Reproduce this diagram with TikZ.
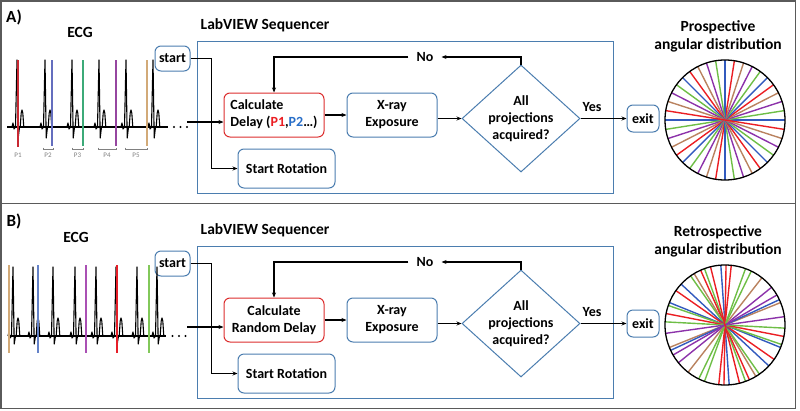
\documentclass[tikz,border=0pt]{standalone}
\usepackage{fontspec}
\setmainfont{Carlito}
\usetikzlibrary{shapes.geometric,arrows.meta,calc}

\definecolor{boxblue}{RGB}{75,125,175}
\definecolor{boxred}{RGB}{220,45,45}
\definecolor{framegray}{RGB}{90,90,90}
\definecolor{cred}{RGB}{235,30,35}
\definecolor{cblue}{RGB}{50,90,190}
\definecolor{cgreen}{RGB}{110,190,70}
\definecolor{cpurple}{RGB}{140,50,170}
\definecolor{cbrown}{RGB}{185,130,95}
\definecolor{pblue}{RGB}{40,110,200}
\definecolor{ered}{RGB}{200,40,50}
\definecolor{eblue}{RGB}{100,110,190}
\definecolor{egreen}{RGB}{60,170,120}
\definecolor{epurple}{RGB}{150,70,160}
\definecolor{etan}{RGB}{210,170,120}
\definecolor{bred}{RGB}{230,30,40}
\definecolor{bblue}{RGB}{100,130,200}
\definecolor{bpurple}{RGB}{170,80,180}
\definecolor{bgreen}{RGB}{130,200,90}

% beat: #1 spike x, #2 baseline y, #3 top y, #4 trough y, #5 T-wave peak y
\newcommand\ecgbeat[5]{%
  \draw[ecg] (#1-5,#2) -- (#1-4,#2-4) -- (#1-3,#2+2) -- (#1-1.5,#2) -- (#1,#3) -- (#1+1.2,#4) -- (#1+2.5,#2) -- (#1+3.2,#2) -- (#1+4.2,#5+3) -- (#1+5,#5) -- (#1+5.8,#5+3) -- (#1+6.8,#2) -- (#1+7.5,#2);}

\newcommand\flowchart[3]{%
  \node[draw=boxblue, line width=1pt, minimum width=416pt, minimum height=152pt, inner sep=0pt] (seq#1) at (405,117) {};
  \node[titlefont] (lab#1) at (265,25) {LabVIEW Sequencer};
  \node[stepbox, minimum width=35pt, minimum height=25pt] (start#1) at (172.5,58.5) {start};
  \node[stepbox, draw=boxred, minimum width=100pt, minimum height=44pt] (calc#1) at (274,115) {#2};
  \node[stepbox, minimum width=90pt, minimum height=44pt] (xray#1) at (392,115) {X-ray\\Exposure};
  \node[stepbox, minimum width=97pt, minimum height=39pt] (rot#1) at (286.5,168.5) {Start Rotation};
  \node[diamond, draw=boxblue, line width=1pt, aspect=1.1, minimum width=118pt, minimum height=107pt, inner sep=0pt, align=center] (dia#1) at (521,118.5) {All\\projections\\acquired?};
  \node[stepbox, minimum width=32pt, minimum height=27pt] (exit#1) at (643,118.5) {exit};
  \node[inner xsep=8pt, inner ysep=2pt] (no#1) at (425,57) {No};
  \node (yes#1) at (592,107) {Yes};
  \node[titlefont, align=center] (title#1) at (718,36) {#3};
  \coordinate (ecg#1) at (187,122);
  \draw[con] (start#1.east) -- ++(21,0) coordinate (sp#1);
  \draw[arr] (sp#1) |- (rot#1.west);
  \draw[arr] (ecg#1) -- (ecg#1 -| calc#1.west);
  \draw[arr] (calc#1.east) -- (xray#1.west);
  \draw[arr] (xray#1.east |- dia#1.west) -- (dia#1.west);
  \draw[arr] (dia#1.north) |- (no#1.east);
  \draw[arr] (no#1.west) -| (calc#1.north);
  \draw[arr] (dia#1.east) -- (exit#1.west);
}

\begin{document}
\begin{tikzpicture}[x=1pt,y=-1pt,
  font=\fontsize{14}{17}\selectfont\bfseries,
  titlefont/.style={font=\fontsize{15.5}{18}\selectfont\bfseries},
  stepbox/.style={draw=boxblue, line width=1pt, rounded corners=6pt, align=center, inner sep=0pt},
  arr/.style={line width=1.1pt, -{Stealth[length=5pt,width=4pt]}},
  con/.style={line width=1.1pt},
  ecg/.style={line width=1.1pt, line join=round},
  pline/.style={line width=1.4pt},
  plabel/.style={font=\fontsize{7}{8}\selectfont\mdseries, text=gray, inner sep=0.5pt},
  bracket/.style={gray, line width=0.5pt}]
\useasboundingbox (0,0) rectangle (800,410);

% frames
\draw[framegray, line width=1.6pt] (1,1) rectangle (795.5,408.5);
\draw[framegray, line width=1.6pt] (1,203.5) -- (795.5,203.5);

% ---------------- Panel A ----------------
\node[font=\fontsize{17}{19}\selectfont\bfseries] (labA) at (14,17) {A)};
\node[titlefont] (ecgtA) at (80,32) {ECG};
\flowchart{A}{\begin{tabular}{@{}l@{}}Calculate\\Delay ({\color{cred}P1},{\color{pblue}P2}…)\end{tabular}}{Prospective\\angular distribution}

% ECG trace A
\draw[ecg] (7,127) -- (168,127);
\foreach \s in {17,45,72,99,126,153} {\ecgbeat{\s}{127}{60}{138}{110}}
\draw[pline, ered] (18,60) -- (18,147);
\draw[pline, eblue] (52,60) -- (52,146);
\draw[pline, egreen] (83,60) -- (83,146);
\draw[pline, epurple] (116,60) -- (116,146);
\draw[pline, etan] (147,60) -- (147,146);
\foreach \x in {174,180.5,187} \fill (\x,127) circle (1.1pt);
\node[plabel] (p1) at (18,155) {P1};
\node[plabel] (p2) at (48,155) {P2};
\node[plabel] (p3) at (77.5,155) {P3};
\node[plabel] (p4) at (107,155) {P4};
\node[plabel] (p5) at (136,155) {P5};
\draw[bracket] (43,147.5) -- (43,149.5) -- (53,149.5) -- (53,147.5);
\draw[bracket] (72,147.5) -- (72,149.5) -- (83,149.5) -- (83,147.5);
\draw[bracket] (98,147.5) -- (98,149.5) -- (116,149.5) -- (116,147.5);
\draw[bracket] (125,147.5) -- (125,149.5) -- (147,149.5) -- (147,147.5);

% prospective circle
\coordinate (ccA) at (725,120);
\foreach \j in {0,45,90,135} {
  \foreach \d/\c in {0/cblue,9/cgreen,18/cpurple,27/cbrown,36/cred} {
    \draw[pline, \c] ($(ccA)+(\j+\d:60pt)$) -- ($(ccA)+(\j+\d+180:60pt)$);
  }
}
\draw[line width=1.3pt] (ccA) circle (60pt);

% ---------------- Panel B ----------------
\node[font=\fontsize{17}{19}\selectfont\bfseries] (labB) at (14,221) {B)};
\node[titlefont] (ecgtB) at (76,237) {ECG};
\begin{scope}[shift={(0,205)}]
\flowchart{B}{Calculate\\Random Delay}{Retrospective\\angular distribution}
\coordinate (ccB) at (725,120);
\foreach \a/\c in {94/cblue,89/cred,84/cred,110/cgreen,114/cred,121/cbrown,125/cgreen,137/cblue,145/cred,158/cblue,161/cgreen,169/cred,177/cgreen,8/cpurple,22/cbrown,25/cblue,39/cpurple,52/cbrown,64/cgreen,70/cgreen,30/cpurple,104/cred} {
  \draw[pline, \c] ($(ccB)+(\a:60pt)$) -- ($(ccB)+(\a+180:60pt)$);
}
\draw[line width=1.3pt] (ccB) circle (60pt);
\end{scope}

% ECG trace B
\draw[ecg] (8,336) -- (166,336);
\foreach \s in {13,33,53,75,96,116,137,157} {\ecgbeat{\s}{336}{267}{344}{318}}
\draw[pline, etan] (9,265) -- (9,353);
\draw[pline, bblue] (38,265) -- (38,353);
\draw[pline, bpurple] (86,265) -- (86,353);
\draw[pline, bred] (117,265) -- (117,353);
\draw[pline, bgreen] (149,265) -- (149,353);
\foreach \x in {172.5,179,185.5} \fill (\x,336) circle (1.1pt);
\end{tikzpicture}
\end{document}
